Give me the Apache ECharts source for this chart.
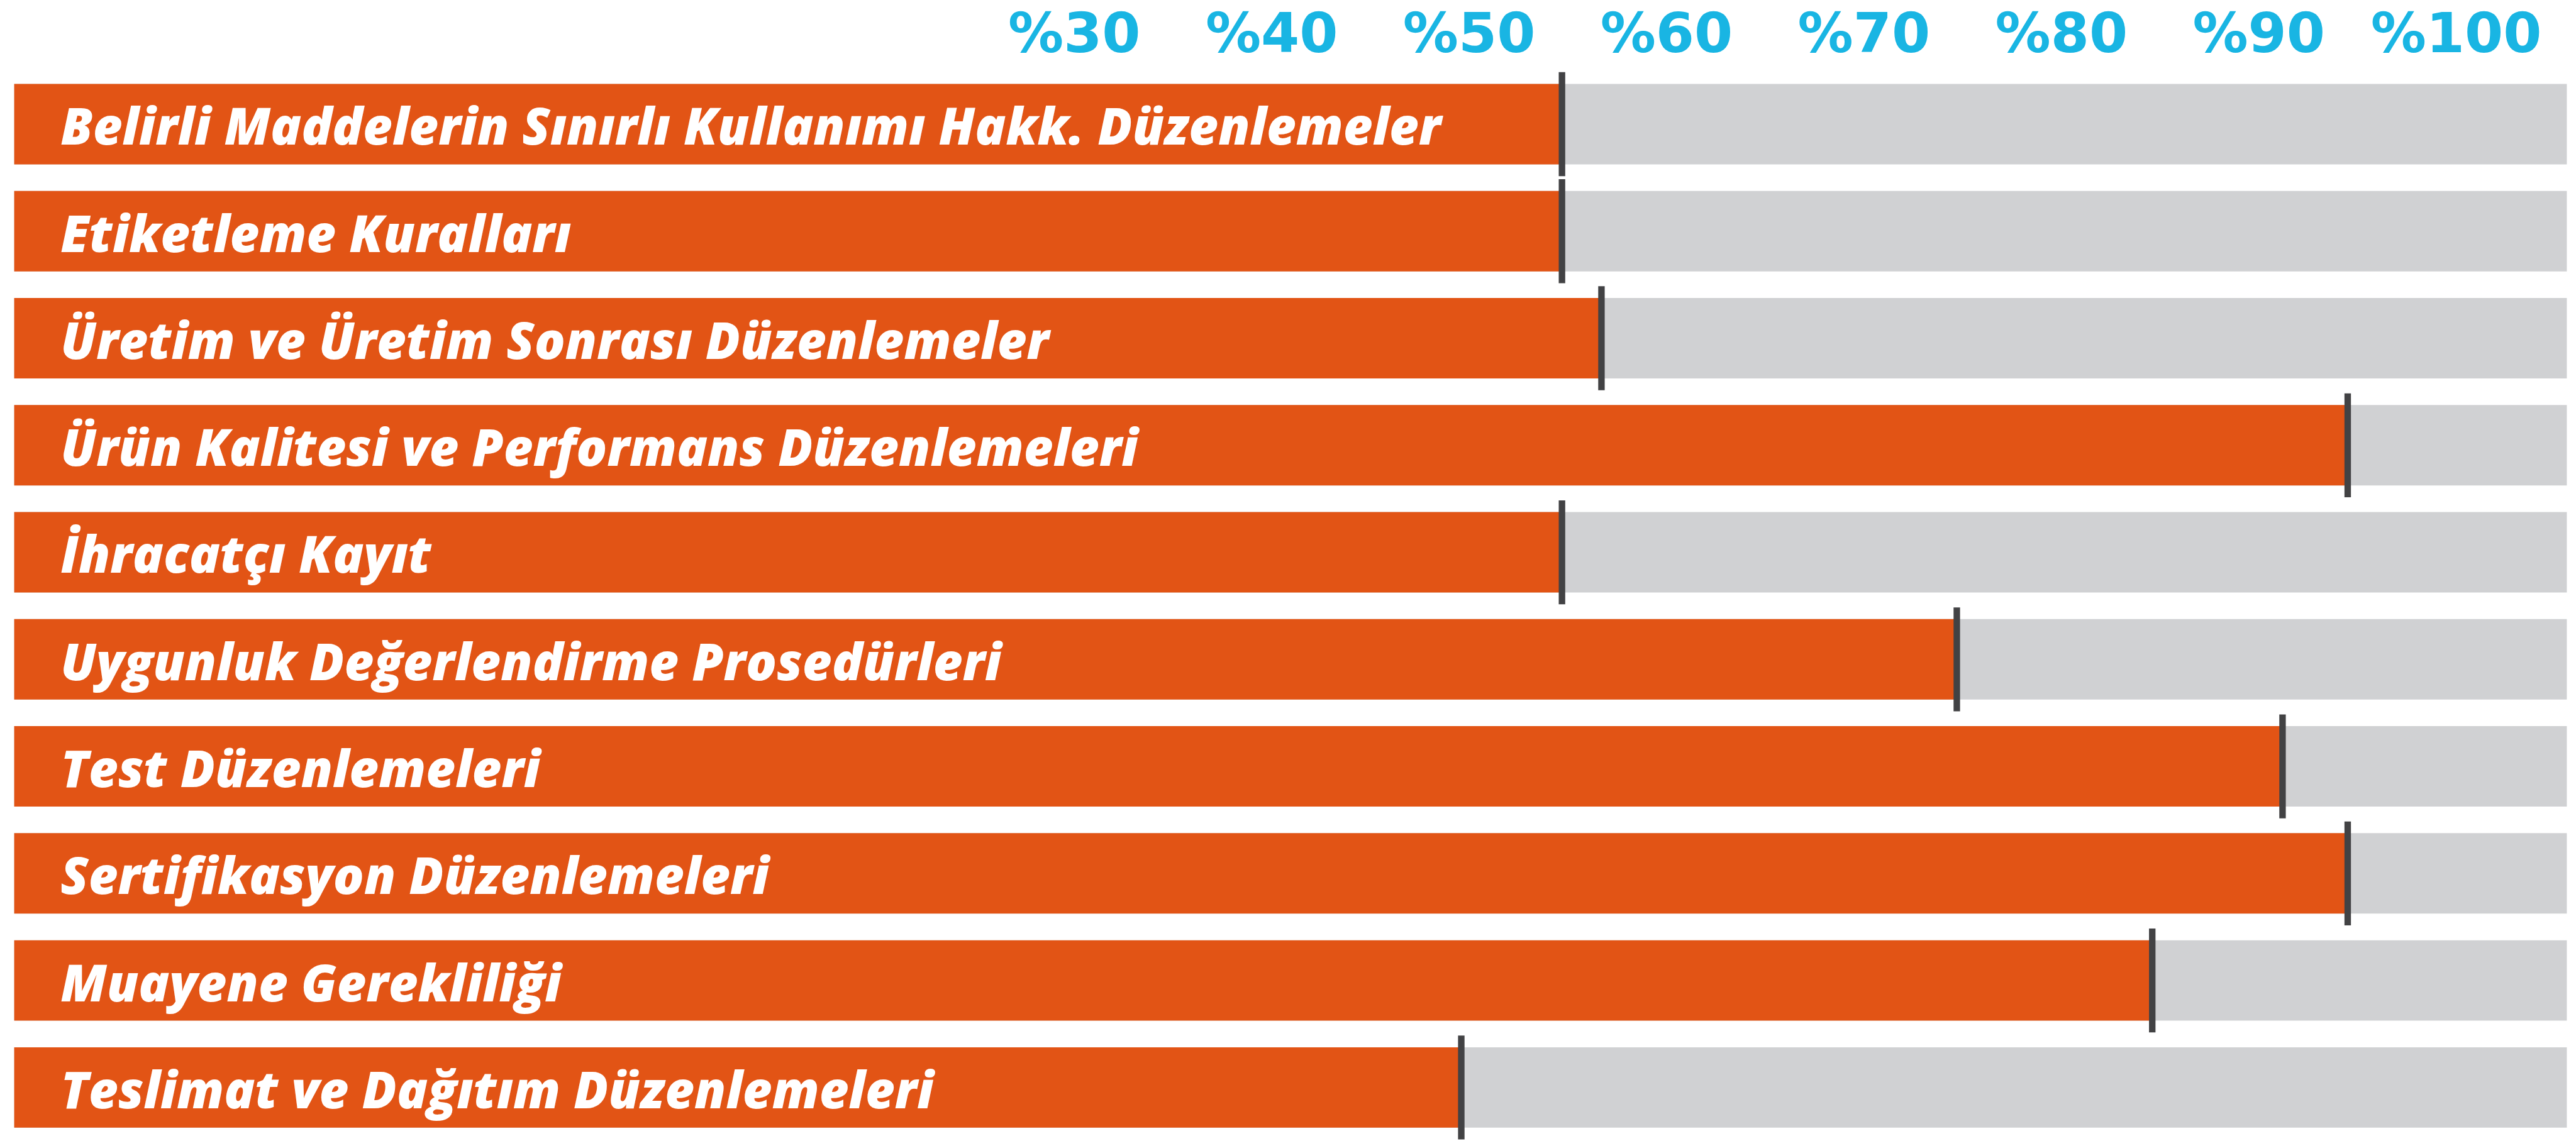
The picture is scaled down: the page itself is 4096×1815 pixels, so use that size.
<!DOCTYPE html>
<html>
<head>
<meta charset="utf-8">
<script src="https://cdn.jsdelivr.net/npm/echarts@6/dist/echarts.min.js"></script>
<style>
  html, body { margin: 0; padding: 0; background: #ffffff; }
  #chart { width: 4096px; height: 1815px; }
</style>
</head>
<body>
<div id="chart"></div>
<script>
// ---- data ----
const categories = [
  'Belirli Maddelerin Sınırlı Kullanımı Hakk. Düzenlemeler',
  'Etiketleme Kuralları',
  'Üretim ve Üretim Sonrası Düzenlemeler',
  'Ürün Kalitesi ve Performans Düzenlemeleri',
  'İhracatçı Kayıt',
  'Uygunluk Değerlendirme Prosedürleri',
  'Test Düzenlemeleri',
  'Sertifikasyon Düzenlemeleri',
  'Muayene Gerekliliği',
  'Teslimat ve Dağıtım Düzenlemeleri'
];
const values = [54.7, 54.7, 56.7, 94.5, 54.7, 74.7, 91.2, 94.5, 84.6, 49.6];
const tickValues = [30, 40, 50, 60, 70, 80, 90, 100];
const tickLabels = ['%30', '%40', '%50', '%60', '%70', '%80', '%90', '%100'];
const axisMin = -23.7;
const axisMax = 105.6;

// ---- styles ----
const S = 0.983;
const ORANGE = '#e25415';
const GRAY = '#d0d1d3';
const MARK = '#424244';
const BLUE = '#19b5e3';

const chart = echarts.init(document.getElementById('chart'), null, { renderer: 'canvas' });

function renderItem(params, api) {
  const idx = api.value(1);
  const val = api.value(0);
  const pMin = api.coord([axisMin, idx]);
  const pMax = api.coord([axisMax, idx]);
  const pVal = api.coord([val, idx]);
  const band = api.size([0, 1])[1];
  const h = band * 0.7514;
  const yc = pMin[1];
  const yTop = yc - h / 2;
  const mw = 10.5 * S;
  const ext = 19 * S;
  return {
    type: 'group',
    children: [
      { type: 'rect', shape: { x: pMin[0], y: yTop, width: pMax[0] - pMin[0], height: h }, style: { fill: GRAY } },
      { type: 'rect', shape: { x: pMin[0], y: yTop, width: pVal[0] - pMin[0], height: h }, style: { fill: ORANGE } },
      { type: 'rect', shape: { x: pVal[0] - mw / 2, y: yTop - ext, width: mw, height: h + 2 * ext }, style: { fill: MARK } },
      { type: 'text', x: pMin[0] + 75 * S, y: yc + 10 * S,
        style: { text: categories[idx], fill: '#ffffff', font: 'italic 800 81px "Open Sans"', textAlign: 'left', textVerticalAlign: 'middle' } }
    ]
  };
}

const option = {
  animation: false,
  backgroundColor: '#ffffff',
  grid: { left: 23 * S, right: 4096 - 4152 * S, top: 114.3 * S, height: 1743.3 * S, containLabel: false },
  xAxis: {
    type: 'value', position: 'top', min: axisMin, max: axisMax,
    axisLine: { show: false }, axisTick: { show: false }, splitLine: { show: false },
    axisLabel: {
      customValues: tickValues,
      formatter: function (v) { const i = tickValues.indexOf(v); return i >= 0 ? tickLabels[i] : ''; },
      color: BLUE, fontFamily: 'DejaVu Sans', fontWeight: 'bold', fontSize: 88,
      verticalAlign: 'middle', margin: 52
    }
  },
  yAxis: {
    type: 'category', data: categories, inverse: true,
    axisLine: { show: false }, axisTick: { show: false }, axisLabel: { show: false }, splitLine: { show: false }
  },
  series: [{
    type: 'custom',
    renderItem: renderItem,
    clip: false,
    encode: { x: 0, y: 1 },
    data: values.map(function (v, i) { return [v, i]; })
  }]
};
chart.setOption(option);
</script>
</body>
</html>
